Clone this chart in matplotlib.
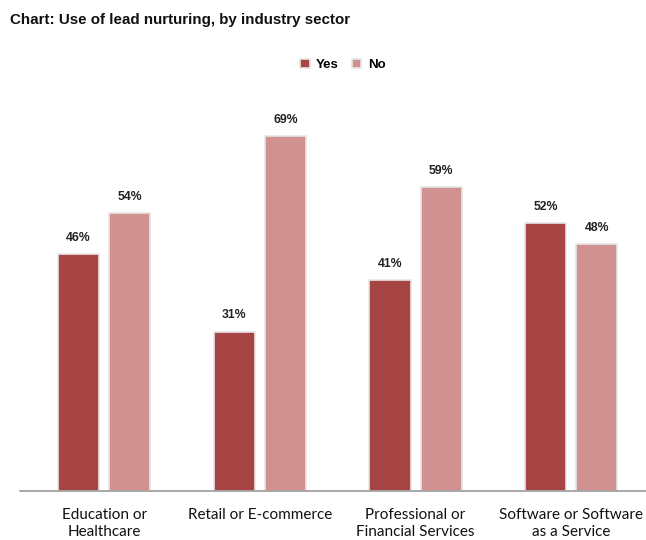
import numpy as np
import matplotlib.pyplot as plt

# lead nurturing survey, share of respondents per sector
sectors = ["Education or\nHealthcare", "Retail or E-commerce",
           "Professional or\nFinancial Services", "Software or Software\nas a Service"]
yes_pct = [46, 31, 41, 52]
no_pct = [54, 69, 59, 48]

yes_color = "#A64543"
no_color = "#D19190"

fig = plt.figure(figsize=(6.46, 5.4), dpi=100)
ax = fig.add_axes([20 / 646, 49 / 540, 626 / 646, 411.6 / 540])

x = np.arange(len(sectors))
w = 0.264
off = 0.164

b1 = ax.bar(x - off, yes_pct, w, color=yes_color, edgecolor="#e6e6e6", linewidth=1.2, label="Yes")
b2 = ax.bar(x + off, no_pct, w, color=no_color, edgecolor="#e6e6e6", linewidth=1.2, label="No")

for bars, vals in [(b1, yes_pct), (b2, no_pct)]:
    for r, v in zip(bars, vals):
        ax.annotate(f"{v}%", (r.get_x() + r.get_width() / 2, v), xytext=(0, 7.5),
                    textcoords="offset points", ha="center", va="bottom",
                    fontsize=8.8, fontweight="bold", color="#222222", family="Liberation Sans")

ax.set_xlim(-0.54, 3.48)
ax.set_ylim(0, 80)
ax.set_yticks([])
ax.set_xticks(x)
ax.set_xticklabels(sectors, fontsize=11, family="Lato", color="#111111", linespacing=1.3)
ax.tick_params(axis="x", length=0, pad=12)
for s in ["top", "right", "left"]:
    ax.spines[s].set_visible(False)
ax.spines["bottom"].set_color("#999999")
ax.spines["bottom"].set_linewidth(1.2)

fig.text(10 / 646, 1 - 20 / 540, "Chart: Use of lead nurturing, by industry sector",
         fontsize=10.9, fontweight="bold", family="Liberation Sans", va="center", color="#111111")

leg = fig.legend(handles=[b1, b2], loc="center", bbox_to_anchor=(343 / 646, 1 - 65 / 540), ncol=2,
                 frameon=False, handlelength=0.7, handleheight=0.7, handletextpad=0.5,
                 columnspacing=1.0, prop={"family": "Liberation Sans", "weight": "bold", "size": 9.5})

fig.savefig("out.png", dpi=100)
